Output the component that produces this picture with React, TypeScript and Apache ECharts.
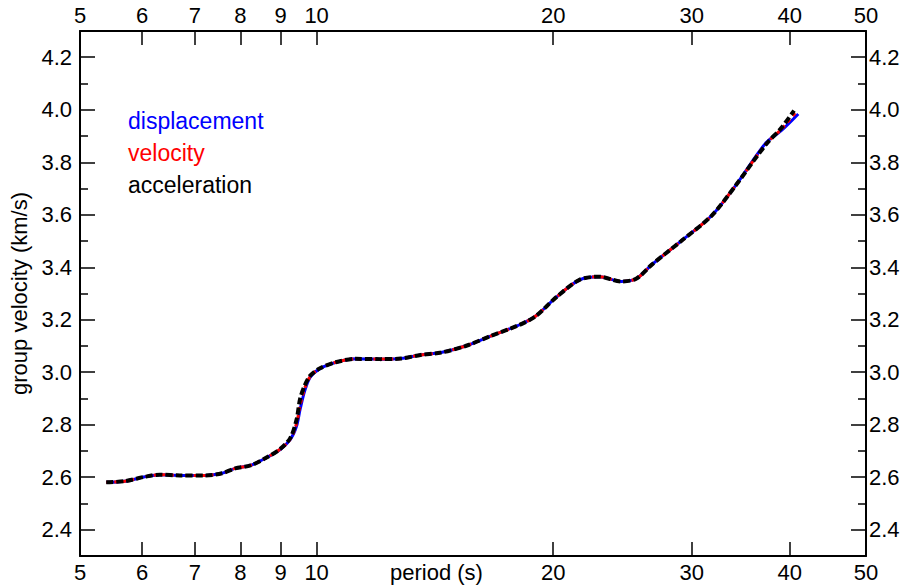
import React, { useEffect, useRef } from "react";
import * as echarts from "echarts";

const periods = [5.4, 5.7, 6.05, 6.32, 6.7, 7.22, 7.58, 7.88, 8.24, 8.6, 8.99, 9.26, 9.43, 9.53, 9.66, 9.82, 10.1, 10.57, 11.2, 12.05, 12.8, 13.56, 14.4, 15.47, 16.65, 18.1, 19.0, 20.2, 21.6, 22.9, 24.4, 25.5, 26.7, 29.1, 31.8, 34.1, 37.3, 39.0];
const displacement = [2.581, 2.585, 2.602, 2.61, 2.607, 2.607, 2.615, 2.634, 2.645, 2.672, 2.706, 2.744, 2.795, 2.86, 2.93, 2.982, 3.014, 3.037, 3.051, 3.05, 3.052, 3.066, 3.075, 3.1, 3.138, 3.18, 3.214, 3.287, 3.352, 3.364, 3.346, 3.356, 3.41, 3.5, 3.596, 3.71, 3.874, 3.92];
const velocity = [2.581, 2.585, 2.602, 2.61, 2.607, 2.607, 2.615, 2.634, 2.645, 2.672, 2.707, 2.746, 2.805, 2.875, 2.94, 2.985, 3.015, 3.038, 3.051, 3.05, 3.052, 3.066, 3.075, 3.1, 3.138, 3.18, 3.214, 3.287, 3.352, 3.364, 3.346, 3.356, 3.41, 3.5, 3.596, 3.71, 3.87, 3.925];
const acceleration = [2.581, 2.585, 2.602, 2.61, 2.607, 2.607, 2.615, 2.634, 2.645, 2.672, 2.708, 2.75, 2.82, 2.9, 2.95, 2.988, 3.015, 3.038, 3.051, 3.05, 3.052, 3.066, 3.075, 3.1, 3.138, 3.18, 3.214, 3.287, 3.352, 3.364, 3.346, 3.356, 3.41, 3.5, 3.596, 3.71, 3.868, 3.93];
const dispEnd = [41.0, 3.984];
const velEnd = [40.7, 3.99];
const accEnd = [40.5, 3.997];

const xTicks = [5, 6, 7, 8, 9, 10, 20, 30, 40, 50];
const yMajor = [2.4, 2.6, 2.8, 3.0, 3.2, 3.4, 3.6, 3.8, 4.0, 4.2];
const yMinor = [2.5, 2.7, 2.9, 3.1, 3.3, 3.5, 3.7, 3.9, 4.1];

const FONT = "Liberation Sans, Arial, Helvetica, sans-serif";
const FS = 22;

function pairs(ys: number[], end: number[]) {
  const d = periods.map((p, i) => [p, ys[i]]);
  d.push(end);
  return d;
}

export default function App() {
  const ref = useRef<HTMLDivElement>(null);
  useEffect(() => {
    if (!ref.current) return;
    const chart = echarts.init(ref.current, null, { renderer: "svg" });
    const xAx = (pos: "top" | "bottom") => ({
      type: "log",
      logBase: 10,
      min: 5,
      max: 50,
      position: pos,
      axisLine: { show: true, onZero: false, lineStyle: { color: "#000", width: 2 } },
      axisTick: { show: true, inside: true, length: 14, customValues: xTicks, lineStyle: { color: "#000", width: 1.5 } },
      axisLabel: { show: true, customValues: xTicks, color: "#000", fontSize: FS, fontFamily: FONT, margin: 5, formatter: (v: number) => String(Math.round(v)) },
      splitLine: { show: false },
      minorTick: { show: false },
    });
    const yMaj = (pos: "left" | "right") => ({
      type: "value",
      min: 2.3,
      max: 4.3,
      position: pos,
      axisLine: { show: true, lineStyle: { color: "#000", width: 2 } },
      axisTick: { show: true, inside: true, length: 15, customValues: yMajor, lineStyle: { color: "#000", width: 1.5 } },
      axisLabel: { show: true, customValues: yMajor, color: "#000", fontSize: FS, fontFamily: FONT, margin: pos === "left" ? 8 : 3, formatter: (v: number) => v.toFixed(1) },
      splitLine: { show: false },
    });
    const yMin = (pos: "left" | "right") => ({
      type: "value",
      min: 2.3,
      max: 4.3,
      position: pos,
      axisLine: { show: false },
      axisTick: { show: true, inside: true, length: 8, customValues: yMinor, lineStyle: { color: "#000", width: 1.5 } },
      axisLabel: { show: false },
      splitLine: { show: false },
    });
    const yLeft: any = yMaj("left");
    yLeft.name = "group velocity (km/s)";
    yLeft.nameLocation = "middle";
    yLeft.nameGap = 46;
    yLeft.nameTextStyle = { color: "#000", fontSize: FS, fontFamily: FONT };
    chart.setOption({
      animation: false,
      backgroundColor: "#fff",
      grid: { left: 80, right: 43, top: 31, bottom: 31 },
      xAxis: [xAx("bottom"), xAx("top")],
      yAxis: [yLeft, yMin("left"), yMaj("right"), yMin("right")],
      legend: {
        orient: "vertical",
        left: 117,
        top: 104,
        itemWidth: 0,
        itemHeight: 0,
        itemGap: 9,
        selectedMode: false,
        textStyle: { fontSize: 23, fontFamily: FONT },
        data: [
          { name: "displacement", textStyle: { color: "#0000ff" } },
          { name: "velocity", textStyle: { color: "#ff0000" } },
          { name: "acceleration", textStyle: { color: "#000000" } },
        ],
      },
      graphic: [
        {
          type: "text",
          left: 390,
          top: 561,
          style: { text: "period (s)", fill: "#000", fontSize: FS, fontFamily: FONT },
        },
      ],
      series: [
        {
          name: "displacement",
          type: "line",
          data: pairs(displacement, dispEnd),
          smooth: 0.3,
          showSymbol: false,
          symbol: "none",
          lineStyle: { color: "#0000ff", width: 3 },
          itemStyle: { color: "#0000ff" },
        },
        {
          name: "velocity",
          type: "line",
          data: pairs(velocity, velEnd),
          smooth: 0.3,
          showSymbol: false,
          symbol: "none",
          lineStyle: { color: "#ff0000", width: 3, type: [4, 4] },
          itemStyle: { color: "#ff0000" },
        },
        {
          name: "acceleration",
          type: "line",
          data: pairs(acceleration, accEnd),
          smooth: 0.3,
          showSymbol: false,
          symbol: "none",
          lineStyle: { color: "#000000", width: 4, type: [7, 3] },
          itemStyle: { color: "#000000" },
        },
      ],
    });
    return () => chart.dispose();
  }, []);
  return <div ref={ref} style={{ width: 909, height: 587, position: "absolute", left: 0, top: 0 }} />;
}
